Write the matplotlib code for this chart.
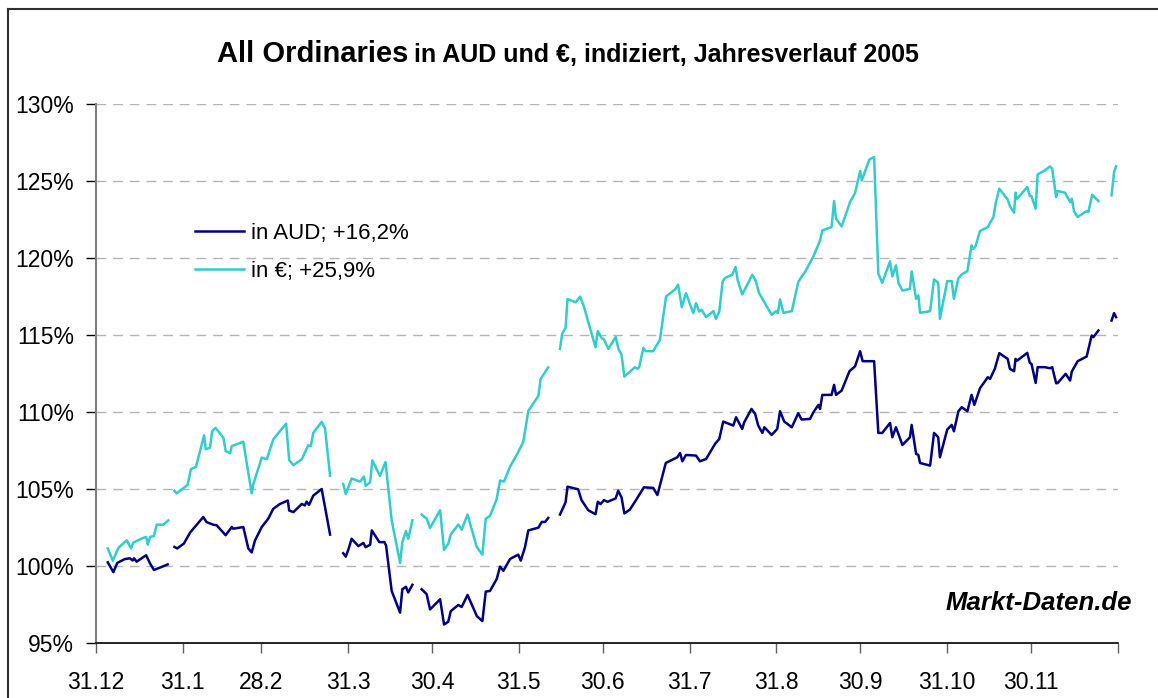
import numpy as np
import matplotlib
matplotlib.use('Agg')
import matplotlib.pyplot as plt
from matplotlib.lines import Line2D

plt.rcParams['font.family'] = ['Liberation Sans', 'DejaVu Sans']

nan = np.nan

# x = days since 31.12.2004, gaps (holidays) as nan
month_days = [0, 31, 59, 90, 120, 151, 181, 212, 243, 273, 304, 334, 365]
month_labels = ['31.12', '31.1', '28.2', '31.3', '30.4', '31.5', '30.6',
                '31.7', '31.8', '30.9', '31.10', '30.11', '']
y_ticks = [95, 100, 105, 110, 115, 120, 125, 130]

aud_days = [4.2, 6.2, 7.6, 10.3, 12.1, 13.1, 13.6, 14.5, 17.9, 19.3, 20.7, 22.9, 25.6, 26.5,
            28.0, 29.0, 31.4, 33.6, 38.3, 39.5, 41.9, 43.1, 46.3, 48.5, 49.0, 52.6, 54.4, 55.6,
            56.8, 59.2, 61.5, 63.3, 65.7, 68.5, 69.0, 70.5, 72.9, 73.5, 74.6, 75.2, 76.1, 77.6,
            80.6, 83.6, 86.0,
            88.3, 89.2, 90.1, 91.3, 93.7, 95.5, 96.3, 97.9, 98.5, 101.2, 103.0, 103.6, 105.6,
            108.6, 109.4, 110.7, 111.5, 113.0, 114.5,
            116.3, 118.1, 119.3, 122.9, 124.3, 125.8, 126.7, 129.4, 130.6, 132.7, 136.0, 138.0,
            139.2, 140.7, 143.1, 144.3, 145.5, 147.9, 150.8, 151.7, 153.2, 154.4, 158.0, 159.2,
            160.4, 161.5, 163.5,
            165.7, 167.7, 168.4, 172.2, 173.4, 175.8, 178.4, 179.2, 180.2, 181.4, 182.7, 185.6,
            186.5, 187.7, 188.7, 190.7, 193.1, 195.7, 199.0, 200.5, 203.5, 207.6, 208.6, 209.4,
            210.7, 214.3, 215.7, 217.9, 221.1, 222.6, 224.0, 227.6, 228.6, 230.8, 231.5, 234.1,
            235.4, 236.5, 238.0, 238.7, 241.3, 243.3, 244.3, 245.8, 248.5, 250.8, 252.0, 255.0,
            256.2, 258.0, 258.6, 259.4, 262.7, 263.6, 264.3, 266.3, 269.1, 271.1, 272.9, 273.8,
            277.9, 279.4, 280.8, 283.6, 284.4, 285.7, 288.0, 290.7, 291.3, 292.9, 293.7, 294.3,
            297.9, 299.3, 300.8, 301.4, 304.0, 305.6, 306.4, 308.0, 309.2, 311.2, 312.7, 313.7,
            315.7, 318.5, 319.3, 321.0, 322.6, 325.6, 326.4, 327.9, 328.4, 329.0, 332.6, 333.5,
            334.1, 335.6, 336.3, 338.9, 340.7, 341.5, 342.9, 343.4, 346.3, 347.9, 348.5, 350.6,
            353.8, 355.6, 356.2, 358.0, 360.0,
            362.7, 363.6, 364.3]
aud_vals = [100.24, 99.6, 100.2, 100.45, 100.5, 100.36, 100.5, 100.28, 100.7, 100.17, 99.74, 99.9, 100.1, nan,
            101.24, 101.14, 101.46, 102.17, 103.18, 102.85, 102.68, 102.64, 102.0, 102.53, 102.42, 102.53, 101.14, 100.88,
            101.67, 102.53, 103.07, 103.71, 104.03, 104.25, 103.6, 103.5, 103.93, 104.03, 103.93, 104.18, 103.97, 104.57,
            105.0, 102.04, nan,
            100.83, 100.61, 101.05, 101.77, 101.29, 101.5, 101.22, 101.38, 102.31, 101.55, 101.55, 101.33, 98.38,
            96.97, 98.49, 98.65, 98.28, 98.78, nan,
            98.49, 98.17, 97.18, 97.84, 96.2, 96.38, 97.07, 97.47, 97.34, 98.12, 96.75, 96.42,
            98.34, 98.38, 99.15, 99.96, 99.69, 100.46, 100.74, 100.35, 101.22, 102.31, 102.49, 102.86,
            102.86, 103.12, nan,
            103.34, 104.13, 105.15, 104.98, 104.28, 103.62, 103.36, 104.17, 104.02, 104.28, 104.17, 104.39,
            104.89, 104.45, 103.41, 103.67, 104.35, 105.11, 105.07, 104.61, 106.69, 107.06, 107.34, 106.8,
            107.21, 107.17, 106.8, 106.95, 107.93, 108.25, 109.38, 109.12, 109.66, 108.9, 109.33, 110.2,
            109.88, 109.12, 108.64, 109.01, 108.51, 108.9, 110.05, 109.38, 109.01, 109.92, 109.51, 109.55,
            109.98, 110.46, 110.2, 111.11, 111.11, 111.76, 111.11, 111.39, 112.65, 112.97, 113.95, 113.3,
            113.3, 108.64, 108.64, 109.29, 108.36, 109.01, 107.86, 108.36, 109.16, 107.28, 107.21, 106.69,
            106.52, 108.64, 108.36, 107.06, 108.86, 109.16, 108.75, 110.05, 110.31, 110.05, 111.11, 110.46,
            111.54, 112.26, 112.15, 112.8, 113.82, 113.45, 112.8, 112.65, 113.45, 113.34, 113.84, 113.19,
            113.13, 111.89, 112.91, 112.91, 112.84, 112.91, 111.87, 111.87, 112.48, 112.04, 112.63, 113.3,
            113.6, 114.97, 114.86, 115.29, nan,
            115.94, 116.42, 116.16]

eur_days = [4.2, 6.0, 8.0, 11.0, 12.5, 13.3, 16.3, 17.9, 18.5, 19.3, 20.7, 21.7, 24.0, 25.8, 26.5,
            28.0, 28.8, 32.7, 33.9, 35.7, 38.6, 39.2, 40.7, 41.5, 42.7, 45.5, 46.3, 47.9, 48.5,
            52.6, 55.6, 56.2, 59.2, 61.0, 63.3, 67.9, 69.0, 70.5, 73.5, 75.8, 76.7, 77.6, 80.6,
            81.8, 83.6, 86.0,
            88.3, 89.2, 91.3, 94.3, 95.7, 96.3, 97.9, 98.7, 101.4, 103.4, 105.6, 108.6, 109.4,
            110.7, 111.5, 113.0, 114.5,
            116.3, 118.1, 119.3, 122.9, 124.3, 125.8, 126.7, 129.4, 130.6, 132.7, 136.0, 138.0,
            139.2, 140.7, 143.1, 144.3, 145.7, 147.9, 150.8, 152.6, 154.4, 158.0, 158.8, 161.5, 163.5,
            165.7, 166.5, 167.7, 168.4, 171.3, 172.9, 174.3, 175.8, 178.4, 179.2, 180.6, 181.4,
            183.0, 185.6, 186.6, 187.7, 188.7, 192.5, 193.3, 194.0, 195.5, 196.3, 199.0, 201.4,
            203.6, 206.8, 207.9, 209.2, 210.7, 213.3, 214.3, 215.4, 216.3, 217.9, 220.5, 221.4,
            222.6, 223.8, 224.6, 227.2, 228.4, 229.2, 230.8, 234.4, 235.6, 236.8, 238.0, 241.3,
            242.9, 243.5, 244.3, 245.5, 248.5, 250.8, 252.0, 253.2, 256.2, 258.6, 259.4, 262.7,
            263.6, 264.3, 266.3, 269.3, 271.1, 272.9, 273.5, 276.2, 277.9, 279.4, 280.8, 283.6,
            284.4, 285.7, 286.6, 288.0, 290.7, 291.3, 292.9, 293.7, 294.3, 297.9, 299.3, 300.8,
            301.4, 304.0, 305.6, 306.4, 308.0, 309.2, 311.2, 312.7, 313.3, 314.1, 315.7, 318.5,
            320.5, 321.4, 322.6, 325.6, 326.4, 327.9, 328.4, 329.0, 332.6, 333.5, 334.1, 335.6,
            336.3, 338.9, 340.7, 341.5, 342.9, 343.4, 346.1, 347.9, 348.5, 349.3, 350.6, 353.8,
            354.4, 355.8, 358.0, 360.0,
            362.7, 363.6, 364.3]
eur_vals = [101.14, 100.34, 101.18, 101.67, 101.14, 101.52, 101.78, 101.89, 101.39, 101.89, 101.95, 102.68, 102.68, 102.96, nan,
            104.89, 104.72, 105.26, 106.29, 106.44, 108.48, 107.58, 107.68, 108.76, 108.97, 108.33, 107.47, 107.32, 107.79,
            108.07, 104.72, 105.32, 107.04, 106.93, 108.22, 109.25, 106.87, 106.55, 106.93, 107.84, 107.79, 108.65, 109.36,
            108.93, 105.86, nan,
            105.33, 104.67, 105.68, 105.48, 105.81, 105.2, 105.44, 106.86, 105.85, 106.75, 102.97, 100.2, 101.55,
            102.27, 101.77, 102.97, nan,
            103.34, 103.08, 102.47, 103.62, 101.05, 101.44, 102.05, 102.69, 102.36, 103.34, 101.22, 100.74,
            103.08, 103.25, 104.34, 105.55, 105.48, 106.46, 107.4, 108.06, 110.07, 111.05, 112.14, 112.9, nan,
            114.1, 115.09, 115.46, 117.34, 117.12, 117.49, 116.83, 115.85, 114.21, 115.26, 114.8, 114.72,
            114.1, 114.87, 114.1, 113.71, 112.3, 112.91, 112.8, 112.91, 114.17, 113.95, 113.95, 114.69,
            117.5, 117.96, 118.26, 116.81, 117.72, 116.42, 117.07, 116.53, 116.64, 116.16, 116.55, 116.05,
            116.53, 118.48, 118.7, 118.91, 119.41, 118.54, 117.63, 118.91, 118.54, 117.72, 117.35, 116.31,
            116.55, 116.42, 117.31, 116.44, 116.55, 118.43, 118.8, 119.08, 120.1, 121.14, 121.79, 122.01,
            123.7, 122.55, 122.05, 123.63, 124.22, 125.65, 125.04, 126.39, 126.56, 118.98, 118.39, 119.78,
            118.8, 119.52, 118.37, 117.89, 118.0, 119.13, 117.35, 117.57, 116.44, 116.55, 118.61, 118.39,
            116.05, 118.5, 118.5, 117.35, 118.69, 118.93, 119.15, 120.82, 120.6, 120.75, 121.75, 122.01,
            122.66, 123.63, 124.5, 123.79, 123.37, 122.94, 124.24, 123.85, 124.61, 124.02, 124.02, 123.2,
            125.43, 125.69, 125.95, 125.8, 123.96, 124.35, 124.24, 123.63, 123.85, 123.03, 122.66, 123.05,
            122.98, 124.11, 123.7, nan,
            124.07, 125.59, 125.95]

W, H = 1158, 698
fig = plt.figure(figsize=(W / 100, H / 100), dpi=100)
ax = fig.add_axes([96 / W, 1 - 643 / H, 1022 / W, 539 / H])

# dashed grid
for v in y_ticks[1:]:
    ax.axhline(v, color='#b4b4b4', lw=1.0, ls=(0, (7, 5)), zorder=0)

ax.plot(aud_days, aud_vals, color='#000080', lw=1.8, label='in AUD; +16,2%')
ax.plot(eur_days, eur_vals, color='#33CCCC', lw=1.8, label='in €; +25,9%')

ax.set_xlim(0, 365)
ax.set_ylim(95, 130)
ax.set_xticks(month_days)
ax.set_xticklabels(month_labels)
ax.set_yticks(y_ticks)
ax.set_yticklabels(['%d%%' % v for v in y_ticks])

for s in ('top', 'right'):
    ax.spines[s].set_visible(False)
ax.spines['left'].set_color('#808080')
ax.spines['left'].set_linewidth(1.5)
ax.spines['bottom'].set_color('black')
ax.spines['bottom'].set_linewidth(1.2)
ax.tick_params(axis='y', direction='out', length=7, width=1, color='black',
               labelsize=16.5, pad=9)
ax.tick_params(axis='x', direction='out', length=7, width=1, color='#606060',
               labelsize=16.5, pad=13)

ax.legend(loc='center left', bbox_to_anchor=(0.097, 0.7245), frameon=False,
          fontsize=16, handlelength=2.2, handletextpad=0.3, labelspacing=0.75,
          borderpad=0, borderaxespad=0)

# title: two sizes on one baseline
fig.text(408 / W, 1 - 62 / H, 'All Ordinaries', ha='right', va='baseline',
         fontsize=21, fontweight='bold')
fig.text(414 / W, 1 - 62 / H, 'in AUD und €, indiziert, Jahresverlauf 2005',
         ha='left', va='baseline', fontsize=18, fontweight='bold')

fig.text(1132 / W, 1 - 610 / H, 'Markt-Daten.de', ha='right', va='baseline',
         fontsize=18.5, fontweight='bold', fontstyle='italic')

# chart frame (cropped at right/bottom)
fig.add_artist(Line2D([8 / W, 8 / W], [0, 1 - 9 / H], transform=fig.transFigure,
                      color='#303030', lw=1.5))
fig.add_artist(Line2D([8 / W, 1], [1 - 9 / H, 1 - 9 / H], transform=fig.transFigure,
                      color='#303030', lw=1.5))

fig.savefig('out.png', dpi=100, facecolor='white')
